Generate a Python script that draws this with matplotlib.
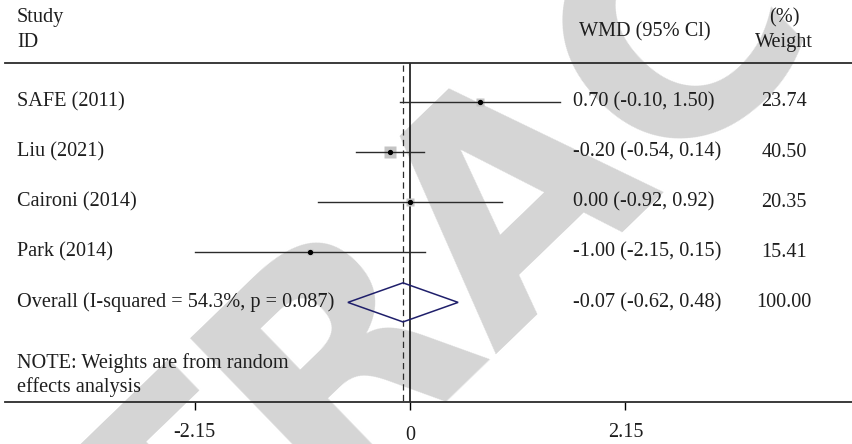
import matplotlib
matplotlib.use("Agg")
import matplotlib.pyplot as plt
from matplotlib.patches import Polygon

# study-level results (weighted mean difference, 95% CI, random-effects weight)
studies = ["SAFE (2011)", "Liu (2021)", "Caironi (2014)", "Park (2014)"]
wmd = [0.70, -0.20, 0.00, -1.00]
ci_low = [-0.10, -0.54, -0.92, -2.15]
ci_high = [1.50, 0.14, 0.92, 0.15]
weights = [23.74, 40.50, 20.35, 15.41]

# pooled estimate
overall_label = "Overall (I-squared = 54.3%, p = 0.087)"
overall_wmd = -0.07
overall_low = -0.62
overall_high = 0.48
overall_weight = 100.00

x_ticks = [-2.15, 0, 2.15]
x_tick_labels = ["-2.15", "0", "2.15"]

TEXT = "#1e1e1e"
LINE = "#2b2b2b"
BOX = "#c4c4c4"
DIAMOND = "#1f1f6b"

plt.rcParams["font.family"] = ["Liberation Serif", "DejaVu Serif"]
FS = 14.6

fig = plt.figure(figsize=(8.53, 4.44), dpi=100)

# faint diagonal stamp sitting behind the whole plot
fig.text(0.606, 0.572, "RETRACTED", fontsize=220, fontweight="bold",
         family="DejaVu Sans", color="#d5d5d5", rotation=44,
         ha="center", va="center", rotation_mode="anchor", zorder=-1)

ax = fig.add_axes([5 / 853, 42 / 444, 848 / 853, 339 / 444])
ax.set_facecolor("none")
ax.set_xlim(-4.042, 4.421)
ax.set_ylim(5.988, -0.778)

rows = list(range(len(studies)))
overall_row = len(studies)
lab = ax.get_yaxis_transform()  # x in axes fraction, y in row units

# reference lines: no effect (solid) and pooled estimate (dashed)
ax.axvline(0, color="black", lw=1.1, zorder=2)
ax.plot([overall_wmd, overall_wmd], [-0.74, 5.988], color=LINE, lw=0.9,
        ls=(0, (5, 3.5)), zorder=2)

# per-study confidence intervals, weight boxes and point estimates
for r, est, lo, hi, w in zip(rows, wmd, ci_low, ci_high, weights):
    ax.plot([lo, hi], [r, r], color=LINE, lw=1.0, zorder=3)
    ax.plot([est], [r], marker="s", ms=1.27 * w ** 0.5, mfc=BOX, mec="none",
            ls="none", zorder=2.5)
    ax.plot([est], [r], "o", color="black", ms=2.8, zorder=4)

# pooled diamond
half_h = 0.39
diamond = Polygon([[overall_low, overall_row], [overall_wmd, overall_row - half_h],
                   [overall_high, overall_row], [overall_wmd, overall_row + half_h]],
                  closed=True, fill=False, edgecolor=DIAMOND, lw=1.1, zorder=4)
ax.add_patch(diamond)

# column headers
ax.text(0.0142, -1.677, "Study", transform=lab, fontsize=FS, color=TEXT, va="center")
ax.text(0.0142, -1.178, "ID", transform=lab, fontsize=FS, color=TEXT, va="center")
ax.text(0.754, -1.397, "WMD (95% Cl)", transform=lab, fontsize=FS, color=TEXT,
        ha="center", va="center")
ax.text(0.9186, -1.677, "(%)", transform=lab, fontsize=FS, color=TEXT,
        ha="center", va="center")
ax.text(0.9186, -1.178, "Weight", transform=lab, fontsize=FS, color=TEXT,
        ha="center", va="center")

# study labels and numeric columns
for r, name, est, lo, hi, w in zip(rows, studies, wmd, ci_low, ci_high, weights):
    ax.text(0.0142, r, name, transform=lab, fontsize=FS, color=TEXT, va="center")
    ax.text(0.6698, r, f"{est:.2f} ({lo:.2f}, {hi:.2f})", transform=lab,
            fontsize=FS, color=TEXT, va="center")
    ax.text(0.9186, r, f"{w:.2f}", transform=lab, fontsize=FS, color=TEXT,
            ha="center", va="center")

ax.text(0.0142, overall_row, overall_label, transform=lab, fontsize=FS,
        color=TEXT, va="center")
ax.text(0.6698, overall_row,
        f"{overall_wmd:.2f} ({overall_low:.2f}, {overall_high:.2f})",
        transform=lab, fontsize=FS, color=TEXT, va="center")
ax.text(0.9186, overall_row, f"{overall_weight:.2f}", transform=lab,
        fontsize=FS, color=TEXT, ha="center", va="center")

ax.text(0.0142, 5.21, "NOTE: Weights are from random", transform=lab,
        fontsize=FS, color=TEXT, va="center")
ax.text(0.0142, 5.69, "effects analysis", transform=lab, fontsize=FS,
        color=TEXT, va="center")

# frame: only the top rule and the bottom axis line
for side in ["left", "right"]:
    ax.spines[side].set_visible(False)
for side in ["top", "bottom"]:
    ax.spines[side].set_color(LINE)
    ax.spines[side].set_linewidth(1.3)
ax.set_yticks([])
ax.set_xticks(x_ticks)
ax.set_xticklabels(x_tick_labels, fontsize=FS, color=TEXT)
ax.tick_params(axis="x", direction="out", length=5.5, width=1.0,
               color="black", pad=9.5)
ax.xaxis.get_major_ticks()[1].set_pad(11.5)

fig.savefig("out.png", dpi=100)
plt.close(fig)
